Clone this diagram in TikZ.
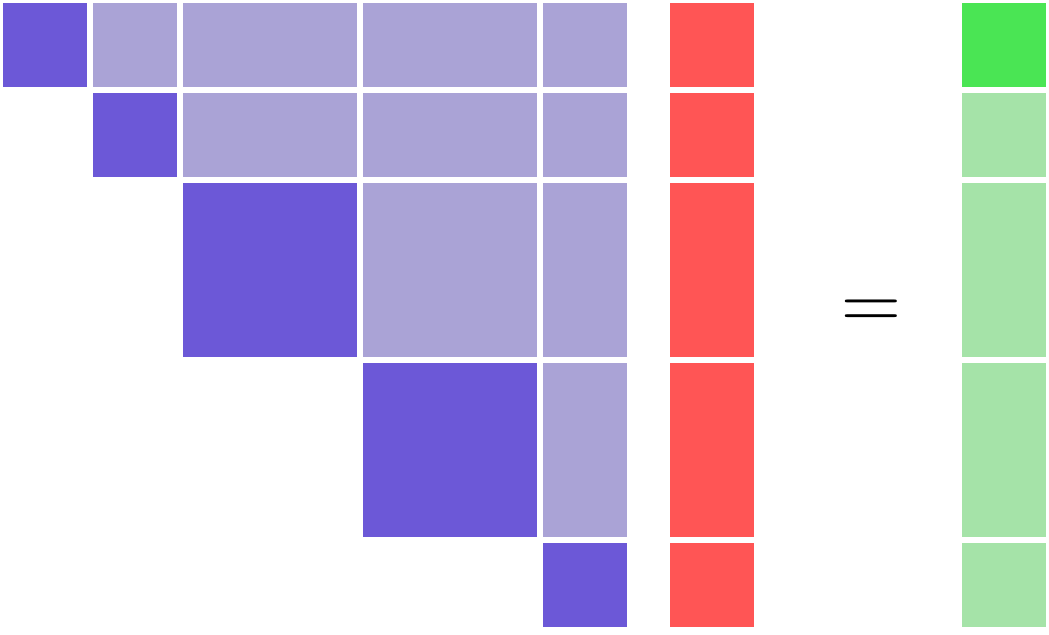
\documentclass[tikz,border=0pt]{standalone}
\usepackage{tikz}
\usetikzlibrary{positioning}

\definecolor{diagblue}{RGB}{108,88,215}
\definecolor{offblue}{RGB}{170,163,214}
\definecolor{vecred}{RGB}{255,85,85}
\definecolor{rhsgreen}{RGB}{74,229,84}
\definecolor{rhslight}{RGB}{165,227,168}

\begin{document}
\begin{tikzpicture}[x=0.025cm,y=-0.025cm,
 blk/.style={rectangle,inner sep=0pt,outer sep=0pt,anchor=north west},
 small/.style={blk,minimum width=2.1cm,minimum height=2.1cm},
 tall/.style={blk,minimum width=2.1cm,minimum height=4.35cm},
 wide/.style={blk,minimum width=4.35cm,minimum height=2.1cm},
 big/.style={blk,minimum width=4.35cm,minimum height=4.35cm}]

  \useasboundingbox (0,0) rectangle (1049,634);

  % upper triangular matrix
  \node[small,fill=diagblue] (d1) at (3,3) {};
  \node[small,fill=offblue] (u12) at (93,3) {};
  \node[wide,fill=offblue] (u13) at (183,3) {};
  \node[wide,fill=offblue] (u14) at (363,3) {};
  \node[small,fill=offblue] (u15) at (543,3) {};

  \node[small,fill=diagblue] (d2) at (93,93) {};
  \node[wide,fill=offblue] (u23) at (183,93) {};
  \node[wide,fill=offblue] (u24) at (363,93) {};
  \node[small,fill=offblue] (u25) at (543,93) {};

  \node[big,fill=diagblue] (d3) at (183,183) {};
  \node[big,fill=offblue] (u34) at (363,183) {};
  \node[tall,fill=offblue] (u35) at (543,183) {};

  \node[big,fill=diagblue] (d4) at (363,363) {};
  \node[tall,fill=offblue] (u45) at (543,363) {};

  \node[small,fill=diagblue] (d5) at (543,543) {};

  % unknown vector
  \node[small,fill=vecred] (x1) at (670,3) {};
  \node[small,fill=vecred] (x2) at (670,93) {};
  \node[tall,fill=vecred] (x3) at (670,183) {};
  \node[tall,fill=vecred] (x4) at (670,363) {};
  \node[small,fill=vecred] (x5) at (670,543) {};

  \node[inner sep=0pt] (eq) at (871.5,314.5) {\fontsize{59}{62}\selectfont =};

  % right hand side
  \node[small,fill=rhsgreen] (b1) at (962,3) {};
  \node[small,fill=rhslight] (b2) at (962,93) {};
  \node[tall,fill=rhslight] (b3) at (962,183) {};
  \node[tall,fill=rhslight] (b4) at (962,363) {};
  \node[small,fill=rhslight] (b5) at (962,543) {};

\end{tikzpicture}
\end{document}
